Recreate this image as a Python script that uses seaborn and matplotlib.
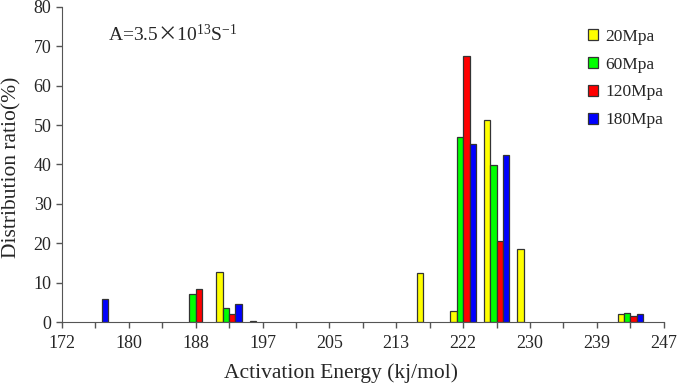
import numpy as np
import pandas as pd
import matplotlib
matplotlib.use("Agg")
import matplotlib.pyplot as plt
import seaborn as sns

# energy bins (categories) and the labels shown on the axis
energy = ["172", "176", "180", "184", "188", "193", "197", "201", "205", "209",
          "213", "218", "222", "226", "230", "234", "239", "243", "247"]
shown = ["172", "180", "188", "197", "205", "213", "222", "230", "239", "247"]

pressures = ["20Mpa", "60Mpa", "120Mpa", "180Mpa"]
colors = ["#FFFF00", "#00FF00", "#FF0000", "#0000FF"]

# distribution ratio (%) per bin, NaN = no bar
p20 = [np.nan, np.nan, np.nan, np.nan, np.nan, 12.6, 0.2, np.nan, np.nan, np.nan,
       np.nan, 12.4, 2.9, 51.2, 18.6, np.nan, np.nan, 2.1, np.nan]
p60 = [np.nan, np.nan, np.nan, np.nan, 7.2, 3.5, np.nan, np.nan, np.nan, np.nan,
       np.nan, np.nan, 47.0, 39.8, np.nan, np.nan, np.nan, 2.4, np.nan]
p120 = [np.nan, np.nan, np.nan, np.nan, 8.4, 2.0, np.nan, np.nan, np.nan, np.nan,
        np.nan, np.nan, 67.5, 20.6, np.nan, np.nan, np.nan, 1.6, np.nan]
p180 = [np.nan, 5.8, np.nan, np.nan, np.nan, 4.7, np.nan, np.nan, np.nan, np.nan,
        np.nan, np.nan, 45.2, 42.3, np.nan, np.nan, np.nan, 2.1, np.nan]

# long form table for seaborn
rows = []
for name, vals in zip(pressures, [p20, p60, p120, p180]):
    for e, v in zip(energy, vals):
        if not np.isnan(v):
            rows.append({"energy": e, "pressure": name, "ratio": v})
df = pd.DataFrame(rows)

sns.set_style("ticks")
plt.rcParams["font.family"] = ["Liberation Serif", "DejaVu Serif"]
plt.rcParams["mathtext.fontset"] = "custom"
plt.rcParams["mathtext.rm"] = "Liberation Serif"
plt.rcParams["mathtext.it"] = "Liberation Serif:italic"
plt.rcParams["mathtext.sf"] = "Noto Sans CJK JP"

fig = plt.figure(figsize=(6.78, 3.85), dpi=100)
ax = fig.add_axes([0.0914, 0.1636, 0.979 - 0.0914, 0.982 - 0.1636])

sns.barplot(data=df, x="energy", y="ratio", hue="pressure", order=energy,
            hue_order=pressures, palette=colors, width=0.76, dodge=True,
            edgecolor="#333333", linewidth=0.9, saturation=1, ax=ax)

ax.set_xlim(0, len(energy) - 1)
ax.set_ylim(0, 80)
ax.set_yticks(range(0, 81, 10))
ax.set_xticks(range(len(energy)))
ax.set_xticklabels([e if e in shown else "" for e in energy])
ax.tick_params(axis="both", labelsize=13, length=4, width=1, color="#555555")
ax.tick_params(axis="x", pad=5)
sns.despine(ax=ax)
for s in ["left", "bottom"]:
    ax.spines[s].set_color("#555555")

ax.set_xlabel("Activation Energy (kj/mol)", fontsize=15.5)
ax.set_ylabel("Distribution ratio(%)", fontsize=15.5)
ax.xaxis.set_label_coords(0.4635, -0.13)
ax.yaxis.set_label_coords(-0.068, 0.49)

ax.text(0.076, 0.911, r"A=3.5$\mathsf{\times}$10$^{13}$S$^{-1}$", transform=ax.transAxes,
        fontsize=14, va="center", ha="left")

leg = ax.legend(loc="upper right", bbox_to_anchor=(1.025, 0.98), frameon=False,
                fontsize=12.5, handlelength=0.6, handleheight=0.6,
                handletextpad=0.4, labelspacing=0.68)

fig.savefig("out.png", dpi=100)
